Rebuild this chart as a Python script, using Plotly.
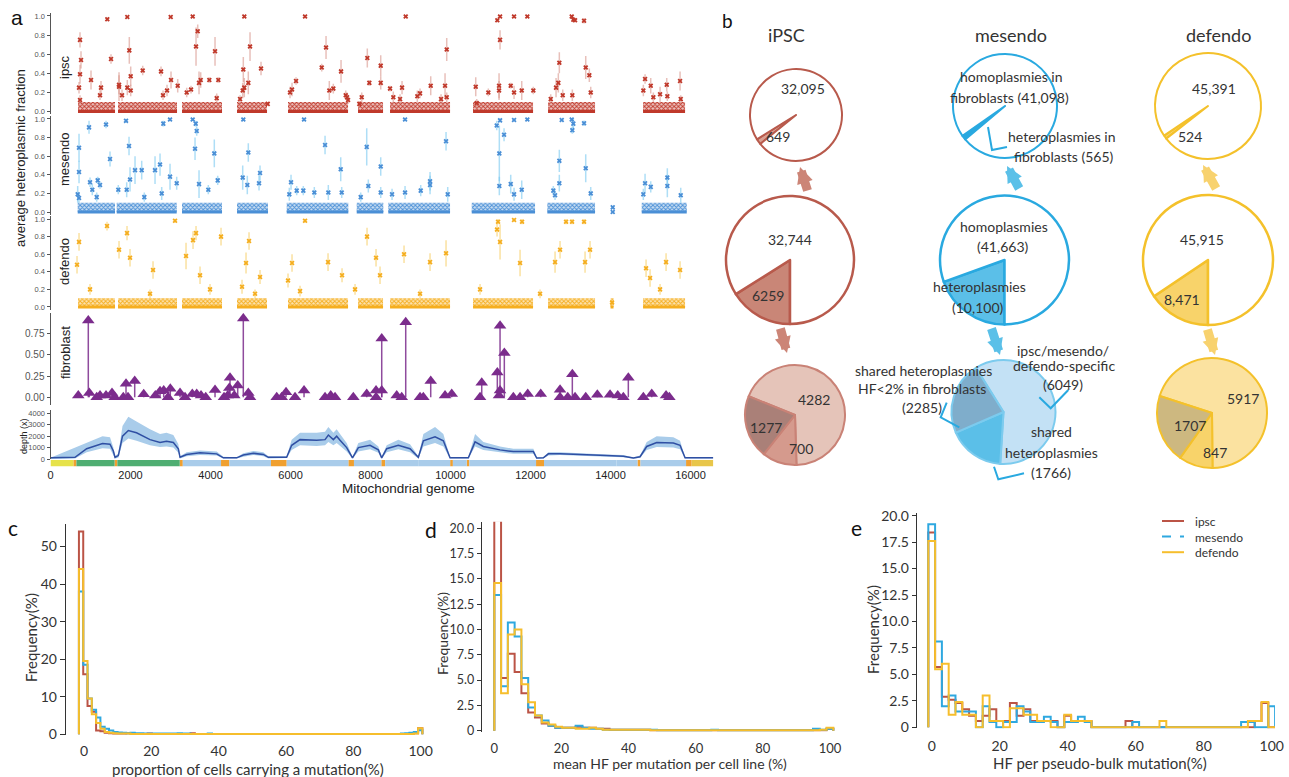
import plotly.graph_objects as go

W, H = 1289, 777
FA = "Liberation Sans, Arial, sans-serif"
FB = "Lato, Open Sans, sans-serif"

# ======================= Panel a data =======================
# (position bp, average heteroplasmic fraction, error)
ipsc_points = [
    (713, 0.25, 0.06), (738, 0.39, 0.10), (738, 0.75, 0.08), (763, 0.54, 0.09), (738, 0.12, 0.05),
    (1013, 0.33, 0.10), (1263, 0.25, 0.07), (1238, 0.17, 0.05), (1420, 0.965, 0.02), (1513, 0.55, 0.05),
    (1713, 0.26, 0.15), (1713, 0.28, 0.10), (1788, 0.17, 0.06), (1920, 0.25, 0.08), (1920, 0.99, 0.01),
    (1970, 0.64, 0.14), (2005, 0.37, 0.10), (2005, 0.22, 0.06), (2305, 0.43, 0.05), (2763, 0.42, 0.05),
    (3005, 0.99, 0.01), (3013, 0.33, 0.09), (2913, 0.22, 0.06), (2813, 0.17, 0.05), (3180, 0.27, 0.07),
    (3405, 0.20, 0.05), (3513, 0.23, 0.04), (3555, 0.995, 0.01), (3638, 0.68, 0.20), (3680, 0.84, 0.07),
    (3755, 0.33, 0.08), (3713, 0.30, 0.12), (3970, 0.33, 0.03), (4113, 0.63, 0.15), (4195, 0.33, 0.03),
    (4155, 0.14, 0.05), (4738, 0.13, 0.04), (4820, 0.44, 0.13), (4845, 0.995, 0.01), (4845, 0.25, 0.10),
    (4805, 0.22, 0.08), (4945, 0.30, 0.12), (4988, 0.68, 0.15), (5263, 0.45, 0.07), (5430, 0.08, 0.02),
    (5988, 0.20, 0.06), (6038, 0.23, 0.07), (6138, 0.32, 0.04), (6363, 0.995, 0.01), (6780, 0.46, 0.04),
    (6888, 0.67, 0.12), (6970, 0.22, 0.10), (7070, 0.24, 0.05), (7263, 0.42, 0.12), (7380, 0.17, 0.05),
    (7413, 0.15, 0.05), (7438, 0.12, 0.04), (7720, 0.08, 0.03), (7920, 0.56, 0.10), (7970, 0.30, 0.03),
    (8255, 0.48, 0.11), (8255, 0.30, 0.07), (7780, 0.15, 0.05), (8488, 0.24, 0.03), (8570, 0.15, 0.06),
    (8788, 0.25, 0.07), (8880, 0.995, 0.01), (8738, 0.13, 0.05), (9238, 0.19, 0.05), (9170, 0.16, 0.06),
    (9505, 0.27, 0.10), (9763, 0.13, 0.05), (9863, 0.27, 0.13), (9905, 0.65, 0.12), (9905, 0.15, 0.05),
    (10630, 0.26, 0.10), (10655, 0.09, 0.04), (10945, 0.20, 0.04), (11170, 0.955, 0.02), (11238, 0.995, 0.01),
    (11238, 0.75, 0.10), (11213, 0.27, 0.13), (11213, 0.22, 0.10), (11505, 0.27, 0.03), (11588, 0.995, 0.01),
    (11588, 0.20, 0.07), (11780, 0.22, 0.10), (11920, 0.995, 0.01), (12070, 0.22, 0.04), (12505, 0.13, 0.05),
    (12638, 0.25, 0.10), (12720, 0.51, 0.11), (12695, 0.30, 0.10), (12805, 0.17, 0.06), (13030, 0.995, 0.01),
    (13070, 0.96, 0.02), (13113, 0.955, 0.02), (13338, 0.95, 0.03), (13380, 0.46, 0.12), (13470, 0.38, 0.07),
    (13505, 0.20, 0.06), (13045, 0.17, 0.06), (14820, 0.22, 0.06), (14863, 0.34, 0.05), (15005, 0.27, 0.08),
    (15070, 0.15, 0.05), (15238, 0.18, 0.08), (15405, 0.28, 0.07), (15420, 0.16, 0.05), (15738, 0.32, 0.10),
    (15755, 0.13, 0.04),
]
mesendo_points = [
    (680, 0.19, 0.09), (713, 0.15, 0.05), (713, 0.43, 0.12), (713, 0.69, 0.15), (963, 0.91, 0.07),
    (988, 0.32, 0.05), (1045, 0.24, 0.06), (1180, 0.34, 0.04), (1238, 0.29, 0.04), (1155, 0.16, 0.05),
    (1388, 0.94, 0.04), (1488, 0.57, 0.08), (1695, 0.24, 0.05), (1888, 0.98, 0.02), (1905, 0.24, 0.08),
    (1963, 0.71, 0.10), (1988, 0.35, 0.13), (2113, 0.45, 0.15), (2280, 0.45, 0.10), (2345, 0.16, 0.05),
    (2613, 0.45, 0.15), (2738, 0.51, 0.12), (2780, 0.20, 0.07), (2820, 0.95, 0.03), (2988, 0.995, 0.01),
    (2988, 0.38, 0.14), (3155, 0.31, 0.07), (3555, 0.995, 0.01), (3630, 0.95, 0.03), (3655, 0.87, 0.05),
    (3613, 0.68, 0.12), (3713, 0.30, 0.15), (3945, 0.24, 0.05), (4095, 0.63, 0.15), (4180, 0.34, 0.05),
    (4820, 0.995, 0.01), (4805, 0.37, 0.13), (4920, 0.29, 0.10), (4945, 0.64, 0.10), (5213, 0.31, 0.08),
    (5238, 0.42, 0.08), (5970, 0.19, 0.07), (6013, 0.32, 0.08), (6155, 0.23, 0.05), (6338, 0.995, 0.01),
    (6320, 0.23, 0.05), (6595, 0.21, 0.06), (6863, 0.72, 0.10), (6945, 0.21, 0.08), (7255, 0.46, 0.13),
    (7280, 0.21, 0.06), (7905, 0.70, 0.20), (7945, 0.28, 0.07), (7755, 0.16, 0.05), (8255, 0.49, 0.10),
    (8255, 0.21, 0.06), (8538, 0.19, 0.06), (8863, 0.995, 0.01), (8863, 0.21, 0.07), (9255, 0.23, 0.06),
    (9488, 0.33, 0.10), (9488, 0.29, 0.10), (9888, 0.76, 0.10), (9930, 0.19, 0.08), (11155, 0.93, 0.05),
    (11220, 0.63, 0.30), (11220, 0.28, 0.10), (11238, 0.985, 0.02), (11338, 0.83, 0.07), (11505, 0.30, 0.10),
    (11588, 0.99, 0.01), (11588, 0.19, 0.07), (11780, 0.24, 0.10), (11920, 0.995, 0.01), (12570, 0.23, 0.05),
    (12613, 0.18, 0.05), (12720, 0.55, 0.12), (12720, 0.31, 0.09), (12780, 0.99, 0.01), (13030, 0.995, 0.01),
    (13070, 0.95, 0.05), (13045, 0.88, 0.04), (13338, 0.955, 0.03), (13380, 0.47, 0.15), (13505, 0.20, 0.07),
    (14055, 0.05, 0.0), (14055, 0.0, 0.0), (14820, 0.19, 0.06), (14863, 0.31, 0.10), (15005, 0.27, 0.06),
    (15420, 0.28, 0.12), (15420, 0.37, 0.10), (15755, 0.18, 0.08),
]
defendo_points = [
    (663, 0.48, 0.10), (713, 0.74, 0.10), (1413, 0.92, 0.05), (1713, 0.65, 0.10), (1913, 0.84, 0.08),
    (1988, 0.56, 0.10), (2563, 0.42, 0.10), (3113, 0.98, 0.02), (3388, 0.58, 0.15), (3563, 0.76, 0.10),
    (3638, 0.84, 0.08), (3738, 0.36, 0.10), (4263, 0.80, 0.10), (4788, 0.23, 0.08), (4888, 0.50, 0.12),
    (4963, 0.75, 0.10), (5238, 0.34, 0.08), (5938, 0.30, 0.08), (6038, 0.50, 0.10), (6363, 0.98, 0.02),
    (6938, 0.51, 0.10), (7288, 0.36, 0.08), (7913, 0.80, 0.10), (8138, 0.56, 0.10), (8238, 0.36, 0.10),
    (8838, 0.60, 0.10), (9488, 0.51, 0.10), (9888, 0.61, 0.15), (11163, 0.88, 0.08), (11188, 0.97, 0.03),
    (11238, 0.74, 0.20), (11588, 0.99, 0.01), (11738, 0.50, 0.15), (11788, 0.97, 0.03), (12613, 0.51, 0.12),
    (12738, 0.65, 0.10), (12888, 0.97, 0.03), (13038, 0.97, 0.03), (13338, 0.97, 0.03), (13363, 0.51, 0.12),
    (13488, 0.65, 0.10), (14038, 0.05, 0.0), (14888, 0.44, 0.10), (14988, 0.33, 0.10), (15388, 0.51, 0.10),
    (15738, 0.42, 0.10), (988, 0.20, 0.06), (2488, 0.15, 0.05), (3988, 0.20, 0.06), (5113, 0.15, 0.05),
    (6238, 0.18, 0.06), (7613, 0.20, 0.06), (9238, 0.15, 0.05), (10738, 0.20, 0.06), (12238, 0.15, 0.05),
    (15238, 0.20, 0.06),
]
# genome regions with dense low-level calls (start bp, end bp)
ipsc_segments = [(688, 1613), (1688, 3163), (3288, 4288), (4663, 5413), (5938, 7438),
                 (7688, 8313), (8488, 9988), (10563, 12063), (12438, 13613), (14813, 15863)]
mesendo_segments = [(680, 1613), (1655, 3155), (3288, 4288), (4663, 5438), (5905, 7445),
                    (7655, 8320), (8445, 9988), (10530, 12113), (12420, 13613), (14780, 15905)]
defendo_segments = [(688, 1613), (1688, 3163), (3288, 4288), (4663, 5413), (5938, 7438),
                    (7688, 8313), (8488, 9988), (10563, 12063), (12438, 13613), (14000, 14075),
                    (14813, 15863)]
# fibroblast (position bp, HF)
fibro_points = [
    (695, 0.02), (945, 0.90), (970, 0.05), (1155, 0.0), (1238, 0.02), (1388, 0.02), (1538, 0.05),
    (1605, 0.0), (1820, 0.0), (1888, 0.16), (1938, 0.0), (2105, 0.19), (2330, 0.035), (2620, 0.02),
    (2738, 0.07), (2830, 0.08), (2938, 0.0), (2995, 0.10), (3238, 0.05), (3363, 0.0), (3545, 0.04),
    (3655, 0.04), (3763, 0.02), (3880, 0.0), (4113, 0.085), (4338, 0.0), (4430, 0.02), (4470, 0.11),
    (4488, 0.23), (4595, 0.02), (4680, 0.14), (4820, 0.925), (4945, 0.05), (4988, 0.0), (5655, 0.0),
    (5780, 0.0), (5888, 0.06), (6113, 0.0), (6338, 0.08), (6863, 0.0), (7005, 0.02), (7113, 0.0),
    (7570, 0.0), (7905, 0.04), (8138, 0.0), (8138, 0.08), (8280, 0.69), (8280, 0.08), (8655, 0.02),
    (8780, 0.0), (8880, 0.88), (9238, 0.0), (9320, 0.0), (9505, 0.19), (9863, 0.02), (10030, 0.04),
    (10738, 0.0), (10780, 0.17), (11170, 0.29), (11238, 0.84), (11238, 0.08), (11213, 0.02),
    (11345, 0.52), (11570, 0.0), (11738, 0.0), (11930, 0.04), (12255, 0.04), (12738, 0.0),
    (12738, 0.09), (12930, 0.0), (13045, 0.27), (13113, 0.0), (13380, 0.0), (13670, 0.03),
    (13988, 0.03), (14180, 0.02), (14320, 0.0), (14445, 0.23), (14820, 0.0), (15030, 0.04),
    (15388, 0.02), (15470, 0.0),
]
depth_pos = [0, 613, 904, 1154, 1300, 1488, 1571, 1613, 1696, 1800, 1946, 2150, 2488, 2738, 2900,
             3071, 3196, 3238, 3404, 3738, 4154, 4321, 4654, 4821, 5071, 5321, 5446, 5904, 6029,
             6238, 6654, 6863, 6946, 7071, 7154, 7238, 7404, 7550, 7696, 7988, 8196, 8279, 8404,
             8696, 8988, 9196, 9321, 9613, 9821, 9988, 10446, 10613, 10821, 11238, 11571, 11904,
             12071, 12154, 12321, 12446, 12738, 13904, 14321, 14571, 14738, 14904, 15154, 15571,
             15738, 15863, 16569]
depth_mean = [100, 150, 900, 1200, 1350, 1300, 700, 150, 300, 2000, 2500, 2300, 1700, 1450, 1550,
              1450, 900, 150, 400, 550, 450, 100, 100, 350, 500, 400, 150, 150, 1200,
              1700, 1650, 1700, 2100, 1700, 2000, 1650, 1000, 100, 1000, 1200, 800, 100, 900,
              1200, 900, 150, 1600, 1950, 1600, 100, 100, 1500, 1100, 800, 650, 650,
              650, 80, 100, 450, 450, 300, 250, 80, 200, 1100, 1450, 1400,
              1200, 100, 100]
depth_low = [0, 50, 600, 850, 950, 900, 400, 50, 100, 1400, 1800, 1600, 1200, 1050, 1100,
             1000, 550, 50, 250, 350, 300, 50, 50, 200, 350, 250, 50, 80, 800,
             1200, 1150, 1200, 1500, 1200, 1400, 1150, 650, 50, 650, 850, 550, 50, 600,
             850, 600, 50, 1100, 1400, 1100, 50, 50, 1100, 800, 600, 450, 450,
             450, 30, 50, 300, 350, 200, 150, 30, 100, 800, 1050, 1000,
             850, 50, 50]
depth_high = [100, 1000, 1400, 1800, 2000, 1900, 1000, 250, 500, 2900, 3700, 3300, 2600, 2200, 2300,
              2100, 1300, 250, 600, 750, 650, 200, 150, 500, 700, 600, 250, 250, 1700,
              2300, 2300, 2400, 2800, 2300, 2600, 2200, 1400, 200, 1400, 1700, 1100, 200, 1200,
              1700, 1300, 250, 2200, 2800, 2200, 150, 150, 2200, 1500, 1100, 900, 900,
              900, 130, 150, 600, 600, 400, 350, 130, 300, 1500, 2000, 1900,
              1600, 150, 150]
gene_start = [0, 577, 648, 1602, 1671, 3230, 3307, 4263, 4470, 5512, 5904, 7446, 7586, 8270,
              8366, 9207, 9991, 10059, 10405, 10470, 12138, 12337, 14149, 14674, 14747, 15888, 16024]
gene_end = [576, 647, 1601, 1670, 3229, 3306, 4262, 4469, 5511, 5903, 7445, 7585, 8269, 8365,
            9206, 9990, 10058, 10404, 10469, 12137, 12336, 14148, 14673, 14746, 15887, 16023, 16569]
gene_kind = ["dloop", "trna", "rrna", "trna", "rrna", "trna", "cds", "trna", "cds", "trna", "cds",
             "trna", "cds", "trna", "cds", "cds", "trna", "cds", "trna", "cds", "trna", "cds", "cds",
             "trna", "cds", "trna", "dloop2"]
genome_ticks = [0, 2000, 4000, 6000, 8000, 10000, 12000, 14000, 16000]

# ======================= Panel b data =======================
ipsc_top = [649, 32095]
ipsc_mid = [6259, 32744]
ipsc_bot = [4282, 700, 1277]
mes_top = [565, 41098]
mes_mid = [10100, 41663]
mes_bot = [6049, 1766, 2285]
def_top = [524, 45391]
def_mid = [8471, 45915]
def_bot = [5917, 847, 1707]

# ======================= Panels c, d, e data =======================
c_edges_start, c_bin_width = -1.5, 1.275
c_ipsc = [54, 16, 7.5, 6.0, 1.0, 0.8, 0.4, 0.3, 0.2, 0.2,
          0.2, 0.3, 0.2, 0.1, 0.1, 0.1, 0.2, 0.1, 0.1, 0.1,
          0.1, 0.1, 0.1, 0.1, 0.1, 0.1, 0.3, 0.1, 0.1, 0.1,
          0.1, 0.1, 0.1, 0.1, 0.1, 0.1, 0.1, 0.1, 0.1, 0.1,
          0.1, 0.1, 0.1, 0.1, 0.1, 0.1, 0.1, 0.1, 0.1, 0.1,
          0.1, 0.1, 0.1, 0.1, 0.1, 0.1, 0.1, 0.1, 0.1, 0.1,
          0.1, 0.1, 0.1, 0.1, 0.1, 0.1, 0.1, 0.1, 0.1, 0.1,
          0.1, 0.1, 0.1, 0.1, 0.1, 0.1, 0.1, 0.2, 0.3, 1.6]
c_mes = [38, 18.5, 9.5, 6.5, 4.5, 2.0, 1.5, 1.0, 0.6, 0.5,
         0.4, 0.3, 0.4, 0.3, 0.3, 0.2, 0.2, 0.2, 0.2, 0.2,
         0.2, 0.2, 0.2, 0.3, 0.2, 0.2, 0.1, 0.1, 0.1, 0.1,
         0.2, 0.1, 0.1, 0.1, 0.1, 0.1, 0.1, 0.1, 0.1, 0.1,
         0.1, 0.1, 0.1, 0.1, 0.1, 0.1, 0.1, 0.1, 0.1, 0.1,
         0.1, 0.1, 0.1, 0.1, 0.1, 0.1, 0.1, 0.1, 0.1, 0.1,
         0.1, 0.1, 0.1, 0.1, 0.1, 0.1, 0.1, 0.1, 0.1, 0.1,
         0.1, 0.1, 0.1, 0.1, 0.1, 0.2, 0.3, 0.4, 0.6, 1.1]
c_def = [44, 19.5, 9.5, 5.3, 3.0, 1.5, 0.6, 0.4, 0.3, 0.2,
         0.2, 0.2, 0.1, 0.1, 0.1, 0.1, 0.1, 0.1, 0.1, 0.1,
         0.1, 0.1, 0.1, 0.1, 0.1, 0.1, 0.1, 0.1, 0.1, 0.1,
         0.1, 0.1, 0.1, 0.1, 0.1, 0.1, 0.1, 0.1, 0.1, 0.1,
         0.1, 0.1, 0.1, 0.1, 0.1, 0.1, 0.1, 0.1, 0.1, 0.1,
         0.1, 0.1, 0.1, 0.1, 0.1, 0.1, 0.1, 0.1, 0.1, 0.1,
         0.1, 0.1, 0.1, 0.1, 0.1, 0.1, 0.1, 0.1, 0.1, 0.1,
         0.1, 0.1, 0.1, 0.1, 0.1, 0.1, 0.1, 0.1, 0.2, 1.6]
d_edges_start, d_bin_width = 0.0, 2.02
d_ipsc = [20.8, 5.2, 7.6, 5.8, 3.7, 1.8, 1.3, 0.7, 0.5, 0.3,
          0.3, 0.3, 0.4, 0.3, 0.3, 0.2, 0.2, 0.1, 0.1, 0.1,
          0.1, 0.1, 0.1, 0.05, 0.05, 0.05, 0.05, 0.05, 0.05, 0.05,
          0.05, 0.05, 0.05, 0.05, 0.05, 0.05, 0.05, 0.05, 0.05, 0.05,
          0.05, 0.05, 0.05, 0.05, 0.05, 0.05, 0.05, 0.05, 0.05, 0.2]
d_mes = [13.4, 4.4, 10.7, 9.3, 5.2, 2.3, 1.5, 1.0, 0.5, 0.3,
         0.3, 0.3, 0.5, 0.3, 0.2, 0.2, 0.1, 0.1, 0.1, 0.1,
         0.1, 0.1, 0.1, 0.1, 0.05, 0.05, 0.05, 0.05, 0.05, 0.05,
         0.05, 0.05, 0.1, 0.05, 0.05, 0.05, 0.05, 0.05, 0.05, 0.05,
         0.05, 0.05, 0.05, 0.05, 0.05, 0.05, 0.05, 0.2, 0.1, 0.2]
d_def = [14.6, 3.7, 9.5, 10.0, 4.6, 2.8, 1.5, 0.8, 0.6, 0.4,
         0.3, 0.3, 0.2, 0.2, 0.3, 0.2, 0.1, 0.1, 0.1, 0.1,
         0.1, 0.1, 0.1, 0.05, 0.05, 0.05, 0.05, 0.05, 0.05, 0.05,
         0.05, 0.05, 0.05, 0.05, 0.05, 0.05, 0.05, 0.05, 0.05, 0.05,
         0.05, 0.05, 0.05, 0.05, 0.05, 0.05, 0.05, 0.05, 0.1, 0.3]
e_edges_start, e_bin_width = -1.0, 2.0
e_ipsc = [18.4, 5.7, 2.9, 2.6, 2.3, 1.7, 1.1, 0.6, 1.1, 1.7,
          0.6, 0.6, 2.3, 1.1, 1.7, 0.6, 0.6, 0.6, 0.6, 0,
          1.1, 0.6, 0.6, 0.6, 0, 0, 0, 0, 0, 0.6,
          0, 0, 0, 0, 0, 0, 0, 0, 0, 0,
          0, 0, 0, 0, 0, 0, 0, 0, 0.6, 2.3, 0]
e_mes = [19.2, 8.1, 2.0, 3.0, 1.5, 1.5, 1.5, 0, 2.0, 0.5,
         0, 0.5, 0.5, 2.0, 1.5, 0.5, 0.5, 1.0, 0.5, 0,
         0.5, 0.5, 1.0, 0.5, 0, 0, 0, 0, 0, 0,
         0.5, 0, 0, 0, 0, 0, 0, 0, 0, 0,
         0, 0, 0, 0, 0, 0, 0.5, 0.5, 0, 0, 2.0]
e_def = [17.6, 5.5, 6.0, 1.2, 2.4, 1.2, 1.2, 0, 3.0, 0.6,
         0.6, 0, 1.8, 1.8, 1.2, 1.2, 0.6, 0.6, 0, 0,
         1.2, 0.6, 0.6, 0.6, 0, 0, 0, 0, 0, 0,
         0, 0, 0, 0, 0.6, 0, 0, 0, 0, 0,
         0, 0, 0, 0, 0, 0, 0, 0.6, 0.6, 2.4, 0]
legend_names = ["ipsc", "mesendo", "defendo"]

# ======================= helpers =======================
def xd(l, r):
    return [l / W, r / W]


def yd(t, b):
    return [1 - b / H, 1 - t / H]


def PX(x):
    return x / W


def PY(y):
    return 1 - y / H


fig = go.Figure()
annotations = []
shapes = []


def ann(text, x, y, size, family=FB, color="#333", angle=0, xanchor="center", align="center"):
    annotations.append(dict(text=text, x=PX(x), y=PY(y), xref="paper", yref="paper",
                            showarrow=False, textangle=angle, xanchor=xanchor, yanchor="middle",
                            align=align, font=dict(size=size, family=family, color=color)))


# ======================= Panel a =======================
tracks = [
    ("y", ipsc_points, ipsc_segments, "#C0392B", "rgba(214,140,130,0.55)", "rgba(192,57,43,0.30)"),
    ("y2", mesendo_points, mesendo_segments, "#4A8FD6", "rgba(120,200,240,0.6)", "rgba(74,143,214,0.30)"),
    ("y3", defendo_points, defendo_segments, "#F5AE1F", "rgba(248,212,120,0.7)", "rgba(245,174,31,0.35)"),
]
for yname, pts, segs, col, ecol, bg in tracks:
    bx, by, lx, ly = [], [], [], []
    for s, e in segs:
        bx += [s, e, e, s, s, None]
        by += [0, 0, 0.1, 0.1, 0, None]
        lx += [s, e, None]
        ly += [0, 0, None]
    fig.add_trace(go.Scatter(x=bx, y=by, xaxis="x", yaxis=yname, mode="lines", fill="toself",
                             fillcolor=bg, line=dict(width=0),
                             fillpattern=dict(shape="x", fgcolor=col, bgcolor=bg, size=3, solidity=0.5),
                             hoverinfo="skip", showlegend=False))
    fig.add_trace(go.Scatter(x=lx, y=ly, xaxis="x", yaxis=yname, mode="lines",
                             line=dict(color=col, width=3), hoverinfo="skip", showlegend=False))
    fig.add_trace(go.Scatter(x=[p[0] for p in pts], y=[p[1] for p in pts], xaxis="x", yaxis=yname,
                             mode="markers", marker=dict(symbol="x", size=4.5, color=col),
                             error_y=dict(type="data", array=[p[2] for p in pts], color=ecol,
                                          thickness=1.5, width=0),
                             showlegend=False))

fv = [p[1] for p in fibro_points]
fig.add_trace(go.Scatter(x=[p[0] for p in fibro_points], y=fv, xaxis="x", yaxis="y4",
                         mode="markers", marker=dict(symbol="triangle-up", size=11, color="#7B2C8C"),
                         error_y=dict(type="data", symmetric=False, array=[0] * len(fv), arrayminus=fv,
                                      color="rgba(123,44,140,0.85)", thickness=1.5, width=0),
                         showlegend=False))

fig.add_trace(go.Scatter(x=depth_pos, y=depth_high, xaxis="x", yaxis="y5", mode="lines",
                         line=dict(width=0, color="#A9CCEA"), hoverinfo="skip", showlegend=False))
fig.add_trace(go.Scatter(x=depth_pos, y=depth_low, xaxis="x", yaxis="y5", mode="lines",
                         line=dict(width=0, color="#A9CCEA"), fill="tonexty", fillcolor="#A9CCEA",
                         hoverinfo="skip", showlegend=False))
fig.add_trace(go.Scatter(x=depth_pos, y=depth_mean, xaxis="x", yaxis="y5", mode="lines",
                         line=dict(width=1.5, color="#2F4FA3"), showlegend=False))

gene_colors = {"dloop": "#E6E24A", "dloop2": "#E8C64A", "trna": "#F0A030", "rrna": "#4FAE72",
               "cds": "#A9CCEA"}
for kind, gcol in gene_colors.items():
    gx, gy = [], []
    for s, e, k in zip(gene_start, gene_end, gene_kind):
        if k == kind:
            gx += [s, e + 1, None]
            gy += [0.5, 0.5, None]
    fig.add_trace(go.Scatter(x=gx, y=gy, xaxis="x", yaxis="y6", mode="lines",
                             line=dict(color=gcol, width=6.5), hoverinfo="skip", showlegend=False))

# ======================= Panel b (pies) =======================
def pie(vals, cx, cy, r, colors, line_col, rot, lw=2):
    fig.add_trace(go.Pie(values=vals, sort=False, direction="clockwise", rotation=rot,
                         marker=dict(colors=colors, line=dict(color=line_col, width=lw)),
                         textinfo="none", hoverinfo="skip", showlegend=False,
                         domain=dict(x=xd(cx - r, cx + r), y=yd(cy - r, cy + r))))


pie(ipsc_top, 796, 115, 46, ["#D9A093", "white"], "#B85A4C", 231)
pie(ipsc_mid, 790, 260, 64, ["#C98677", "white"], "#B85A4C", 180, 2.5)
pie(ipsc_bot, 795, 415, 50, ["#E5C4B9", "#D59A8D", "#AA8078"], "#C98276", 292)
pie(mes_top, 1005, 106, 52, ["#29A9E0", "white"], "#29A9E0", 230)
pie(mes_mid, 1004.5, 260, 64.5, ["#5BBFE8", "white"], "#29A9E0", 180, 2.5)
pie(mes_bot, 1003.5, 412, 52, ["#C3E1F5", "#5BBFE8", "#7FADCB"], "#7CCBEE", 328)
pie(def_top, 1208, 106, 53, ["#F8D36A", "white"], "#F4C12B", 232)
pie(def_mid, 1208, 260, 65, ["#F8D36A", "white"], "#F4C12B", 180, 2.5)
pie(def_bot, 1212, 413, 55, ["#FBE2A0", "#F8D36A", "#CDB880"], "#F4C12B", 288)

# arrows (head x, head y, tail x, tail y, color)
arrows = [(800, 167, 808, 192, "#CC8577"), (787, 353, 780, 327, "#CC8577"),
          (1007, 166, 1020, 190, "#5BC0E8"), (1000, 355, 991, 327, "#5BC0E8"),
          (1203, 165, 1217, 190, "#F8D26E"), (1215, 355, 1207, 328, "#F8D26E")]
for hx, hy, tx, ty, acol in arrows:
    annotations.append(dict(x=PX(hx), y=PY(hy), xref="paper", yref="paper", text="",
                            showarrow=True, ax=tx - hx, ay=ty - hy, arrowhead=2, arrowsize=0.36,
                            arrowwidth=9, arrowcolor=acol, standoff=0))

# callout brackets
for pts in [[(988, 127), (992, 150), (1007, 147)],
            [(946.7, 402.7), (940.7, 417.3), (959.3, 427.3)],
            [(1039.3, 397.3), (1050.7, 408.3), (1068.3, 390)],
            [(994, 466.7), (998.3, 479.3), (1024, 473.3)]]:
    path = "M {} {}".format(PX(pts[0][0]), PY(pts[0][1]))
    for x, y in pts[1:]:
        path += " L {} {}".format(PX(x), PY(y))
    shapes.append(dict(type="path", path=path, xref="paper", yref="paper",
                       line=dict(color="#29A9E0", width=2)))

ann("iPSC", 786, 35, 18)
ann("mesendo", 1011, 35, 18)
ann("defendo", 1218, 35, 18)
for t, x, y in [("32,095", 803, 89), ("649", 778, 137), ("32,744", 790, 239), ("6259", 768, 295),
                ("4282", 814, 399), ("1277", 766, 427), ("700", 801, 448),
                ("homoplasmies in", 1011, 77), ("fibroblasts (41,098)", 1009, 97),
                ("heteroplasmies in", 1062, 137), ("fibroblasts (565)", 1064, 156),
                ("homoplasmies", 1004, 227), ("(41,663)", 1003, 247),
                ("heteroplasmies", 979, 286), ("(10,100)", 978, 307),
                ("ipsc/mesendo/", 1063, 350), ("defendo-specific", 1064, 366), ("(6049)", 1063, 384),
                ("shared heteroplasmies", 923, 370), ("HF<2% in fibroblasts", 922, 388),
                ("(2285)", 922, 407), ("shared", 1051, 431), ("heteroplasmies", 1051, 452),
                ("(1766)", 1051, 472),
                ("45,391", 1214, 89), ("524", 1190, 137), ("45,915", 1202, 239), ("8,471", 1182, 299),
                ("5917", 1243, 398), ("1707", 1190, 425), ("847", 1215, 452)]:
    ann(t, x, y, 14)

# ======================= Panels c, d, e (step histograms) =======================
HCOL = {"ipsc": "#BB5446", "mesendo": "#2EA8E0", "defendo": "#F6BE2C"}


def step(vals, start, width, xa, ya, col):
    edges = [start + width * k for k in range(len(vals) + 1)]
    xs = [edges[0]] + edges[:-1] + [edges[-1]]
    ys = [0] + list(vals) + [0]
    fig.add_trace(go.Scatter(x=xs, y=ys, xaxis=xa, yaxis=ya, mode="lines", line_shape="hv",
                             line=dict(color=col, width=2), hoverinfo="skip", showlegend=False))


for vals, col in [(c_ipsc, HCOL["ipsc"]), (c_mes, HCOL["mesendo"]), (c_def, HCOL["defendo"])]:
    step(vals, c_edges_start, c_bin_width, "x2", "y7", col)
for vals, col in [(d_ipsc, HCOL["ipsc"]), (d_mes, HCOL["mesendo"]), (d_def, HCOL["defendo"])]:
    step(vals, d_edges_start, d_bin_width, "x3", "y8", col)
for vals, col in [(e_ipsc, HCOL["ipsc"]), (e_mes, HCOL["mesendo"]), (e_def, HCOL["defendo"])]:
    step(vals, e_edges_start, e_bin_width, "x4", "y9", col)

# legend for e (one multi-line text block + sample lines)
line_step = 15.6
for i, (name, dash) in enumerate(zip(legend_names, ["solid", "dash", "solid"])):
    yy = 521 + i * line_step
    shapes.append(dict(type="line", xref="paper", yref="paper", x0=PX(1162), x1=PX(1184),
                       y0=PY(yy), y1=PY(yy), line=dict(color=HCOL[name], width=2, dash=dash)))
ann("<br>".join(legend_names), 1193, 521 + line_step, 12, xanchor="left", align="left")

# ======================= text labels =======================
ann("a", 17, 17, 21, family=FA, color="#111")
ann("b", 727, 20, 19, color="#111")
ann("c", 13, 527, 21, color="#111")
ann("d", 431, 529, 21, color="#111")
ann("e", 857, 527, 21, color="#111")

ann("average heteroplasmic fraction", 20, 158, 13, family=FA, color="#222", angle=-90)
ann("ipsc", 65, 67, 13, family=FA, color="#222", angle=-90)
ann("mesendo", 65, 160, 13, family=FA, color="#222", angle=-90)
ann("defendo", 65, 262, 13, family=FA, color="#222", angle=-90)
ann("fibroblast", 65, 353, 13, family=FA, color="#222", angle=-90)
ann("depth (x)", 24, 436, 9, family=FA, color="#222", angle=-90)
ann("Mitochondrial genome", 408, 488, 13.5, family=FA, color="#222")

ann("Frequency(%)", 31, 638, 15, angle=-90)
ann("proportion of cells carrying a mutation(%)", 248, 769, 15)
ann("Frequency(%)", 442, 634, 14, angle=-90)
ann("mean HF per mutation per cell line (%)", 670, 763, 14)
ann("Frequency(%)", 873, 630, 15, angle=-90)
ann("HF per pseudo-bulk mutation(%)", 1100, 763, 15)

# ======================= layout =======================
def track_axis(dom, rng, tv, tt, size, anchor="x"):
    return dict(domain=dom, range=rng, anchor=anchor, showgrid=False, zeroline=False,
                showline=True, linecolor="#555", linewidth=1, ticks="outside", ticklen=3,
                tickcolor="#555", tickvals=tv, ticktext=tt,
                tickfont=dict(size=size, family=FA, color="#555"))


hf_t = [0, 0.2, 0.4, 0.6, 0.8, 1.0]
hf_tt = ["0.0", "0.2", "0.4", "0.6", "0.8", "1.0"]

layout = dict(
    width=W, height=H, margin=dict(l=0, r=0, t=0, b=0), template="none",
    paper_bgcolor="white", plot_bgcolor="white", showlegend=False,
    xaxis=dict(domain=xd(50.5, 713.3), range=[0, 16569], anchor="y6", showgrid=False,
               zeroline=False, showline=False, ticks="",
               tickvals=genome_ticks, ticktext=[str(t) for t in genome_ticks],
               tickfont=dict(size=11, family=FA, color="#222")),
    yaxis=track_axis(yd(13.1, 114.4), [-0.03, 1.03], hf_t, hf_tt, 7.5),
    yaxis2=track_axis(yd(116.2, 214.8), [-0.03, 1.03], hf_t, hf_tt, 7.5),
    yaxis3=track_axis(yd(216.4, 309.6), [-0.03, 1.03], hf_t, hf_tt, 7.5),
    yaxis4=track_axis(yd(312.9, 405), [-0.09, 0.99], [0, 0.25, 0.5, 0.75],
                      ["0.00", "0.25", "0.50", "0.75"], 10),
    yaxis5=track_axis(yd(410, 459), [0, 4300], [0, 1000, 2000, 3000, 4000],
                      ["0", "1000", "2000", "3000", "4000"], 7.5),
    yaxis6=dict(domain=yd(460, 466.5), range=[0, 1], anchor="x", visible=False),
    xaxis2=dict(domain=xd(65.7, 425), range=[-5.43, 101.28], anchor="y7", showgrid=False,
                zeroline=False, showline=False, ticks="outside", ticklen=3,
                tickcolor="rgba(0,0,0,0)", tickvals=[0, 20, 40, 60, 80, 100],
                tickfont=dict(size=14, family=FB, color="#333")),
    yaxis7=dict(domain=yd(524, 735.4), range=[-0.3, 56], anchor="x2", showgrid=False,
                zeroline=False, showline=True, linecolor="#333", linewidth=1, ticks="outside",
                ticklen=5, tickcolor="#333", tickvals=[0, 10, 20, 30, 40, 50],
                tickfont=dict(size=14, family=FB, color="#333")),
    xaxis3=dict(domain=xd(481.7, 835), range=[-3.75, 101.5], anchor="y8", showgrid=False,
                zeroline=False, showline=False, ticks="outside", ticklen=5,
                tickcolor="rgba(0,0,0,0)", tickvals=[0, 20, 40, 60, 80, 100],
                tickfont=dict(size=13, family=FB, color="#333")),
    yaxis8=dict(domain=yd(521.7, 731.7), range=[-0.1, 20.65], anchor="x3", showgrid=False,
                zeroline=False, showline=True, linecolor="#333", linewidth=1, ticks="outside",
                ticklen=4, tickcolor="#333",
                tickvals=[0, 2.5, 5, 7.5, 10, 12.5, 15, 17.5, 20],
                ticktext=["0", "2.5", "5.0", "7.5", "10.0", "12.5", "15.0", "17.5", "20.0"],
                tickfont=dict(size=12.5, family=FB, color="#333")),
    xaxis4=dict(domain=xd(916.7, 1275), range=[-4.41, 100.97], anchor="y9", showgrid=False,
                zeroline=False, showline=False, ticks="outside", ticklen=5,
                tickcolor="rgba(0,0,0,0)", tickvals=[0, 20, 40, 60, 80, 100],
                tickfont=dict(size=14, family=FB, color="#333")),
    yaxis9=dict(domain=yd(512.5, 728.4), range=[-0.1, 20.3], anchor="x4", showgrid=False,
                zeroline=False, showline=True, linecolor="#333", linewidth=1, ticks="outside",
                ticklen=4, tickcolor="#333",
                tickvals=[0, 2.5, 5, 7.5, 10, 12.5, 15, 17.5, 20],
                ticktext=["0", "2.5", "5.0", "7.5", "10.0", "12.5", "15.0", "17.5", "20.0"],
                tickfont=dict(size=14, family=FB, color="#333")),
    annotations=annotations,
    shapes=shapes,
)
fig.update_layout(**layout)
fig.write_html("out.html")
